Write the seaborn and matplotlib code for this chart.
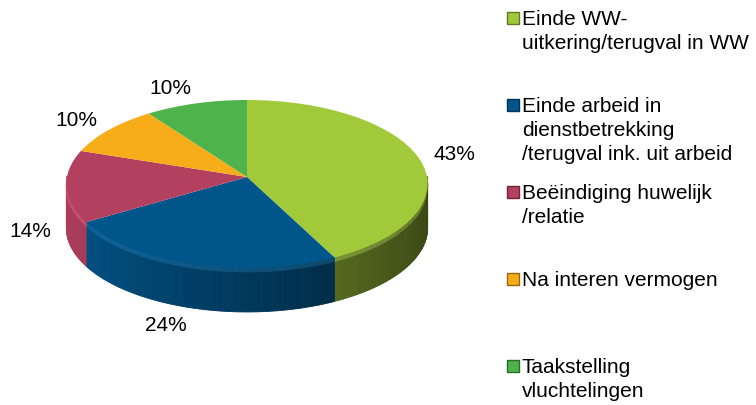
import numpy as np
import matplotlib.pyplot as plt
import matplotlib.transforms as mtransforms
import seaborn as sns
from matplotlib.collections import PolyCollection
from matplotlib.patches import Rectangle
from matplotlib.colors import to_rgb

categories = ["Einde WW-\nuitkering/terugval in WW",
              "Einde arbeid in\ndienstbetrekking\n/terugval ink. uit arbeid",
              "Beëindiging huwelijk\n/relatie",
              "Na interen vermogen",
              "Taakstelling\nvluchtelingen"]
shares = [43, 24, 14, 10, 10]
pct_labels = ["43%", "24%", "14%", "10%", "10%"]
colors = sns.color_palette(["#A2C93A", "#00558A", "#B3405F", "#F7AD19", "#4DB34A"])

sns.set_theme(style='white')
plt.rcParams['font.family'] = ['Liberation Sans', 'DejaVu Sans']

W, H = 756, 405
# pie apex, radii (pixels), perspective strength, side thickness (pixels)
cx, cy, sx, sy, persp, thick = 247, 177, 180, 83.4, 0.083, 44


def proj(x, y):
    w = 1 + persp * y
    return cx + sx * x / w, cy - sy * y / w


class Persp(mtransforms.Transform):
    input_dims = output_dims = 2

    def transform_non_affine(self, xy):
        xy = np.asarray(xy, dtype=float)
        X, Y = proj(xy[:, 0], xy[:, 1])
        return np.column_stack([X, Y])


fig = plt.figure(figsize=(W / 100, H / 100), dpi=100)
ax = fig.add_axes([0, 0, 1, 1])

wedges, _ = ax.pie(shares, colors=colors, startangle=90, counterclock=False,
                   radius=1, wedgeprops=dict(linewidth=0, zorder=3))
for w in wedges:
    w.set_transform(Persp() + ax.transData)

# side walls of the front half, shaded darker to the right
verts, fcols = [], []
for w, c in zip(wedges, colors):
    t1, t2 = max(w.theta1, -180), min(w.theta2, 0)
    if t2 <= t1:
        continue
    base = np.array(to_rgb(c))
    ts = np.linspace(t1, t2, int(t2 - t1) + 2)
    for a, b in zip(ts[:-1], ts[1:]):
        ra, rb = np.radians([a, b])
        xa, ya = proj(np.cos(ra), np.sin(ra))
        xb, yb = proj(np.cos(rb), np.sin(rb))
        f = 0.66 - 0.30 * np.cos(np.radians((a + b) / 2))
        verts.append([(xa, ya), (xb, yb), (xb, yb + thick), (xa, ya + thick)])
        fcols.append(tuple(np.clip(base * f, 0, 1)))
        # soft highlight along the rim
        verts.append([(xa, ya - 1), (xb, yb - 1), (xb, yb + 4), (xa, ya + 4)])
        fcols.append(tuple(np.clip(base * 0.85 * f + (base + (1 - base) * 0.2) * 0.3, 0, 1)))
ax.add_collection(PolyCollection(verts, facecolors=fcols, edgecolors=fcols,
                                 linewidths=0.6, zorder=1))

for w, lab in zip(wedges, pct_labels):
    m = np.radians((w.theta1 + w.theta2) / 2)
    X, Y = proj(1.08 * np.cos(m), 1.08 * np.sin(m))
    if abs(np.cos(m)) > 0.15:
        X += 22 * np.sign(np.cos(m))
    Y -= 10 * np.sin(m)
    if np.sin(m) < 0:
        Y += thick
    ax.text(X, Y, lab, ha='center', va='center', fontsize=15, color='black')

ax.set_aspect('auto')
ax.set_xlim(0, W)
ax.set_ylim(H, 0)
ax.axis('off')

# legend on the right
for i, (lab, c) in enumerate(zip(categories, colors)):
    yc = 18 + 87 * i
    dark = tuple(np.array(to_rgb(c)) * 0.6)
    fig.add_artist(Rectangle((507 / W, 1 - (yc + 6) / H), 12 / W, 12 / H,
                             transform=fig.transFigure, facecolor=c,
                             edgecolor=dark, linewidth=1))
    fig.text(522 / W, 1 - (yc - 8) / H, lab, ha='left', va='top',
             fontsize=15, linespacing=1.32, color='black')

fig.savefig('out.png', dpi=100)
